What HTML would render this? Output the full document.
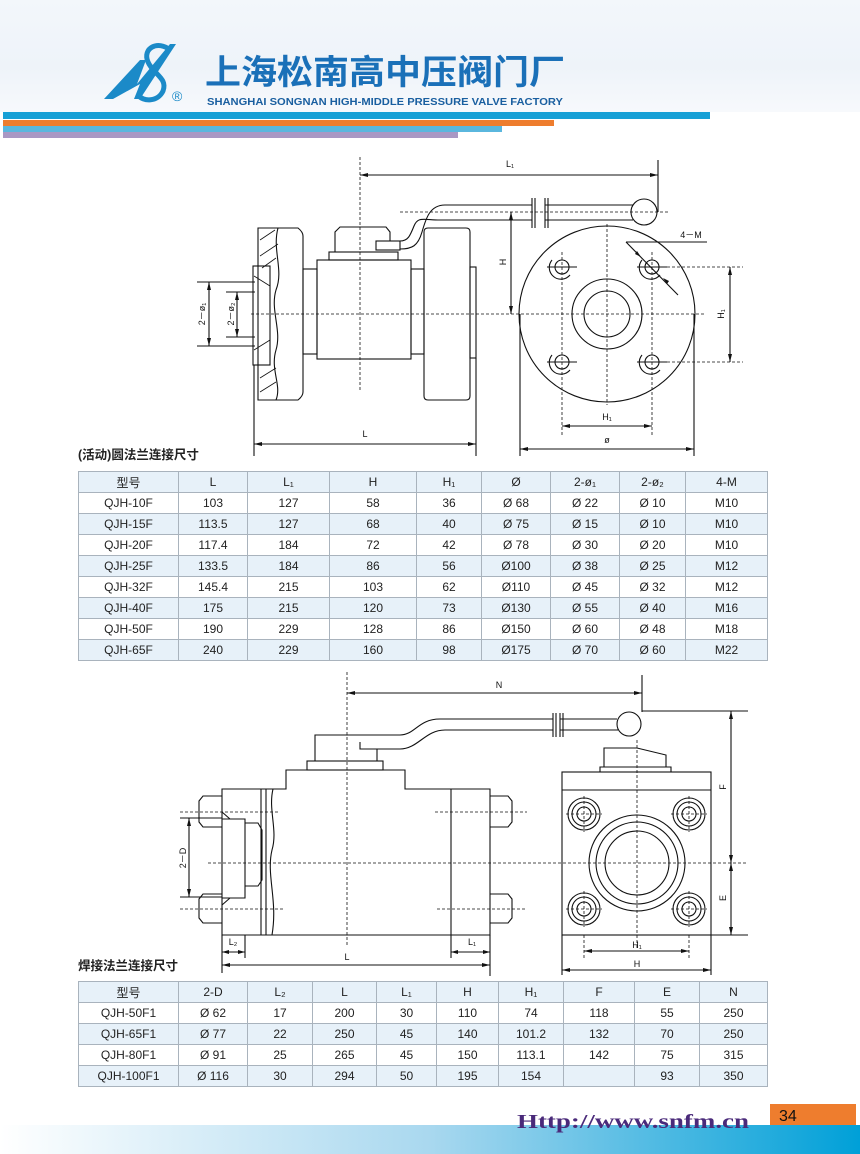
<!DOCTYPE html>
<html><head><meta charset="utf-8"><style>
html,body{margin:0;padding:0;background:#fff}
body{width:860px;height:1154px;position:relative;overflow:hidden;font-family:"Liberation Sans","Noto Sans CJK SC",sans-serif}
.hdr{position:absolute;left:0;top:0;width:860px;height:112px;background:linear-gradient(180deg,#f3f7fb,#eef3f9 60%,#f7f9fc)}
table{position:absolute;border-collapse:collapse;font-size:12px;color:#222;table-layout:fixed}
td{border:1px solid #a9b3bd;text-align:center;height:20px;padding:0}
tr.b td{background:#e7f1f9}
.cap{position:absolute;font-size:12.5px;font-weight:bold;color:#222}
</style></head><body>
<div class="hdr"></div>
<svg width="860" height="1154" style="position:absolute;left:0;top:0" font-family="Liberation Sans, Noto Sans CJK SC, sans-serif">
<!-- logo -->
<polygon points="104,99 140,60 146,60 137,84 170,44 176,44 140,99 134,99 140,84 113,99" fill="#1b8ac8"/>
<path d="M170,50 C158,40 142,48 148,62 C153,74 168,78 163,91 C158,102 143,102 138,95" fill="none" stroke="#1b8ac8" stroke-width="5"/>
<text x="172" y="101" font-size="14" fill="#1b8ac8">®</text>
<text x="205" y="84" font-size="34" font-weight="bold" fill="#1a70b8" textLength="360" lengthAdjust="spacingAndGlyphs" font-family="Liberation Sans, Noto Sans CJK SC, sans-serif">上海松南高中压阀门厂</text>
<text x="207" y="105" font-size="10.5" font-weight="bold" fill="#1a5fa0" textLength="356" lengthAdjust="spacingAndGlyphs">SHANGHAI SONGNAN HIGH-MIDDLE PRESSURE VALVE FACTORY</text>
<rect x="3" y="112" width="707" height="7" fill="#17a0d6"/>
<rect x="3" y="120" width="551" height="6" fill="#ee7d2e"/>
<rect x="3" y="126" width="499" height="6" fill="#5ab7de"/>
<rect x="3" y="132" width="455" height="6" fill="#a998c4"/>

<g stroke="#111" fill="none" stroke-width="1.1">
<!-- ===== Drawing 1 ===== -->
<g stroke-dasharray="3,2" stroke-width="0.8">
<line x1="360" y1="157" x2="360" y2="392"/>
<line x1="251" y1="314" x2="705" y2="314"/>
<line x1="400" y1="212" x2="668" y2="212"/>
<line x1="607" y1="224" x2="607" y2="405"/>
<line x1="562" y1="252" x2="562" y2="436"/><line x1="652" y1="252" x2="652" y2="436"/>
<line x1="652" y1="267" x2="743" y2="267"/><line x1="652" y1="362" x2="743" y2="362"/>
</g>
<line x1="360" y1="175" x2="658" y2="175"/><line x1="658" y1="160" x2="658" y2="212"/>
<path d="M400,249 C412,249 418,246 422,232 C426,218 430,205 445,205 L532,205 M545,205 L633,205"/>
<path d="M400,241 C408,241 410,236 414,226 C418,216 424,220 440,220 L532,220 M545,220 L633,220"/>
<line x1="532" y1="198" x2="532" y2="228"/><line x1="535" y1="198" x2="535" y2="228"/>
<line x1="545" y1="198" x2="545" y2="228"/><line x1="548" y1="198" x2="548" y2="228"/>
<circle cx="644" cy="212" r="13"/>
<path d="M335,252 L335,232 L340,227 L386,227 L390,232 L390,241"/>
<rect x="376" y="241" width="24" height="9"/>
<rect x="329" y="252" width="69" height="8"/>
<rect x="317" y="260" width="94" height="99"/>
<rect x="303" y="269" width="14" height="85"/>
<rect x="411" y="269" width="13" height="85"/>
<path d="M428,228 L466,228 Q470,228 470,232 L470,396 Q470,400 466,400 L428,400 Q424,400 424,396 L424,232 Q424,228 428,228Z"/>
<rect x="470" y="267" width="6" height="91"/>
<path d="M258,228 L298,228 Q303,232 303,236 L303,392 Q303,396 298,400 L258,400 Z"/>
<path d="M278,228 C272,250 284,270 276,290 C270,310 282,330 276,350 C270,370 282,385 276,400"/>
<rect x="253" y="266" width="17" height="99"/>
<g stroke-width="0.8">
<line x1="260" y1="240" x2="275" y2="230"/><line x1="260" y1="256" x2="278" y2="244"/>
<line x1="262" y1="268" x2="276" y2="258"/><line x1="254" y1="276" x2="270" y2="286"/>
<line x1="254" y1="350" x2="270" y2="340"/><line x1="260" y1="378" x2="276" y2="368"/>
<line x1="260" y1="392" x2="276" y2="382"/>
</g>
<line x1="197" y1="282" x2="255" y2="282"/><line x1="197" y1="346" x2="255" y2="346"/>
<line x1="209" y1="282" x2="209" y2="346"/>
<line x1="226" y1="292" x2="255" y2="292"/><line x1="226" y1="337" x2="255" y2="337"/>
<line x1="237" y1="292" x2="237" y2="337"/>
<line x1="254" y1="365" x2="254" y2="456"/><line x1="476" y1="358" x2="476" y2="456"/>
<line x1="254" y1="444" x2="476" y2="444"/>
<circle cx="607" cy="314" r="88"/>
<circle cx="607" cy="314" r="35"/><circle cx="607" cy="314" r="23"/>
<g>
<circle cx="562" cy="267" r="7"/><path d="M552,260 A11,11 0 1 0 570,275"/>
<circle cx="652" cy="267" r="7"/><path d="M642,260 A11,11 0 1 0 660,275"/>
<circle cx="562" cy="362" r="7"/><path d="M552,355 A11,11 0 1 0 570,370"/>
<circle cx="652" cy="362" r="7"/><path d="M642,355 A11,11 0 1 0 660,370"/>
<line x1="547" y1="267" x2="577" y2="267"/><line x1="637" y1="267" x2="667" y2="267"/>
<line x1="547" y1="362" x2="577" y2="362"/><line x1="637" y1="362" x2="667" y2="362"/>
</g>
<line x1="511" y1="212" x2="511" y2="314"/>
<line x1="730" y1="267" x2="730" y2="362"/>
<line x1="562" y1="426" x2="652" y2="426"/>
<line x1="520" y1="314" x2="520" y2="456"/><line x1="694" y1="314" x2="694" y2="456"/>
<line x1="520" y1="449" x2="694" y2="449"/>
<line x1="626" y1="242" x2="707" y2="242"/><line x1="626" y1="242" x2="678" y2="295"/>
<!-- ===== Drawing 2 ===== -->
<g stroke-dasharray="3,2" stroke-width="0.8">
<line x1="347" y1="672" x2="347" y2="945"/>
<line x1="208" y1="863" x2="746" y2="863"/>
<line x1="637" y1="740" x2="637" y2="950"/>
<line x1="180" y1="812" x2="280" y2="812"/><line x1="180" y1="909" x2="285" y2="909"/>
<line x1="435" y1="812" x2="527" y2="812"/><line x1="437" y1="909" x2="527" y2="909"/>
<line x1="566" y1="814" x2="602" y2="814"/><line x1="671" y1="814" x2="707" y2="814"/>
<line x1="566" y1="909" x2="602" y2="909"/><line x1="671" y1="909" x2="707" y2="909"/>
<line x1="584" y1="796" x2="584" y2="832"/><line x1="689" y1="796" x2="689" y2="832"/>
<line x1="584" y1="891" x2="584" y2="927"/><line x1="689" y1="891" x2="689" y2="927"/>
<line x1="584" y1="935" x2="584" y2="960"/><line x1="689" y1="935" x2="689" y2="960"/>
</g>
<line x1="347" y1="693" x2="642" y2="693"/><line x1="642" y1="675" x2="642" y2="712"/>
<path d="M315,742 L315,735 L400,735 C415,735 418,719 440,719 L553,719 M560,719 L617,719"/>
<path d="M360,742 L360,749 L400,749 C418,749 425,730 445,730 L553,730 M560,730 L618,730"/>
<line x1="553" y1="713" x2="553" y2="737"/><line x1="556" y1="713" x2="556" y2="737"/>
<line x1="560" y1="713" x2="560" y2="737"/><line x1="563" y1="713" x2="563" y2="737"/>
<circle cx="629" cy="724" r="12"/>
<path d="M315,742 L315,761 L377,761 L377,749"/>
<rect x="307" y="761" width="76" height="9"/>
<path d="M222,935 L222,789 L286,789 L286,770 L405,770 L405,789 L490,789 L490,935 Z"/>
<line x1="261" y1="789" x2="261" y2="935"/><line x1="266" y1="789" x2="266" y2="935"/>
<path d="M273,789 C268,810 278,830 272,850 C266,875 278,900 272,935"/>
<line x1="451" y1="789" x2="451" y2="935"/>
<path d="M222,819 L230,819 L245,819 L245,898 L230,898 L222,898"/>
<path d="M222,812 L230,819 M222,905 L230,898"/>
<path d="M245,823 L258,823 L262,830 L262,880 L258,886 L245,886"/>
<path d="M222,796 L203,796 L199,801 L199,822 L203,827 L222,827"/>
<path d="M222,894 L203,894 L199,899 L199,918 L203,923 L222,923"/>
<path d="M490,796 L508,796 L512,801 L512,822 L508,827 L490,827"/>
<path d="M490,894 L508,894 L512,899 L512,918 L508,923 L490,923"/>
<line x1="180" y1="818" x2="222" y2="818"/><line x1="180" y1="897" x2="222" y2="897"/>
<line x1="189" y1="818" x2="189" y2="897"/>
<line x1="222" y1="935" x2="222" y2="973"/><line x1="245" y1="935" x2="245" y2="958"/>
<line x1="451" y1="935" x2="451" y2="958"/><line x1="490" y1="935" x2="490" y2="976"/>
<line x1="222" y1="952" x2="245" y2="952"/><line x1="451" y1="952" x2="490" y2="952"/>
<line x1="222" y1="965" x2="490" y2="965"/>
<rect x="562" y="772" width="149" height="163"/>
<line x1="562" y1="790" x2="711" y2="790"/>
<path d="M600,772 L600,767 L604,767 L604,748 L637,748 L666,755 L666,767 L671,767 L671,772"/>
<line x1="600" y1="767" x2="671" y2="767"/>
<circle cx="637" cy="863" r="48"/><circle cx="637" cy="863" r="41"/><circle cx="637" cy="863" r="32"/>
<g>
<circle cx="584" cy="814" r="16"/><circle cx="584" cy="814" r="12"/><circle cx="584" cy="814" r="7"/>
<circle cx="689" cy="814" r="16"/><circle cx="689" cy="814" r="12"/><circle cx="689" cy="814" r="7"/>
<circle cx="584" cy="909" r="16"/><circle cx="584" cy="909" r="12"/><circle cx="584" cy="909" r="7"/>
<circle cx="689" cy="909" r="16"/><circle cx="689" cy="909" r="12"/><circle cx="689" cy="909" r="7"/>
</g>
<line x1="642" y1="711" x2="748" y2="711"/><line x1="711" y1="935" x2="748" y2="935"/>
<line x1="731" y1="711" x2="731" y2="935"/>
<line x1="584" y1="951" x2="689" y2="951"/>
<line x1="562" y1="935" x2="562" y2="975"/><line x1="711" y1="935" x2="711" y2="975"/>
<line x1="562" y1="970" x2="711" y2="970"/>
</g>
<!-- arrowheads -->
<g fill="#111">
<path d="M360,175 l8,-2 v4z M658,175 l-8,-2 v4z"/>
<path d="M511,212 l-2,8 h4z M511,314 l-2,-8 h4z"/>
<path d="M730,267 l-2,8 h4z M730,362 l-2,-8 h4z"/>
<path d="M562,426 l8,-2 v4z M652,426 l-8,-2 v4z"/>
<path d="M520,449 l8,-2 v4z M694,449 l-8,-2 v4z"/>
<path d="M254,444 l8,-2 v4z M476,444 l-8,-2 v4z"/>
<path d="M209,282 l-2,8 h4z M209,346 l-2,-8 h4z"/>
<path d="M237,292 l-2,8 h4z M237,337 l-2,-8 h4z"/>
<path d="M641,257 l-6,-3 l2,-3z M663,278 l6,3 l-2,3z"/>
<path d="M347,693 l8,-2 v4z M642,693 l-8,-2 v4z"/>
<path d="M189,818 l-2,8 h4z M189,897 l-2,-8 h4z"/>
<path d="M222,952 l7,-2 v4z M245,952 l-7,-2 v4z M451,952 l7,-2 v4z M490,952 l-7,-2 v4z"/>
<path d="M222,965 l8,-2 v4z M490,965 l-8,-2 v4z"/>
<path d="M731,711 l-2,8 h4z M731,863 l-2,-8 h4z M731,863 l-2,8 h4z M731,935 l-2,-8 h4z"/>
<path d="M584,951 l8,-2 v4z M689,951 l-8,-2 v4z M562,970 l8,-2 v4z M711,970 l-8,-2 v4z"/>
</g>
<g font-size="9" fill="#111" text-anchor="middle">
<text x="510" y="167">L₁</text>
<text x="365" y="437">L</text>
<text x="607" y="420">H₁</text>
<text x="607" y="443">ø</text>
<text x="691" y="238">4－M</text>
<text transform="translate(506,262) rotate(-90)">H</text>
<text transform="translate(724,314) rotate(-90)">H₁</text>
<text transform="translate(205,314) rotate(-90)">2－ø₁</text>
<text transform="translate(234,314) rotate(-90)">2－ø₂</text>
<text x="499" y="688">N</text>
<text x="233" y="945">L₂</text>
<text x="472" y="945">L₁</text>
<text x="347" y="960">L</text>
<text x="637" y="948">H₁</text>
<text x="637" y="967">H</text>
<text transform="translate(186,858) rotate(-90)">2－D</text>
<text transform="translate(726,787) rotate(-90)">F</text>
<text transform="translate(726,898) rotate(-90)">E</text>
</g>
<!-- footer -->
<defs><linearGradient id="fg" x1="0" x2="1"><stop offset="0" stop-color="#fff"/><stop offset="0.5" stop-color="#a9d8ef"/><stop offset="1" stop-color="#00a0d8"/></linearGradient></defs>
<rect x="0" y="1125" width="860" height="29" fill="url(#fg)"/>
<rect x="770" y="1104" width="86" height="21" fill="#ee7d2e"/>
<text x="779" y="1121" font-size="16" fill="#111" font-family="Liberation Sans, sans-serif">34</text>
<text x="517" y="1128" font-size="20" font-weight="bold" fill="#4a2a7a" font-family="Liberation Serif, serif" textLength="232" lengthAdjust="spacingAndGlyphs">Http://www.snfm.cn</text>
</svg>
<div class="cap" style="left:78px;top:444px">(活动)圆法兰连接尺寸</div>
<table style="left:78px;top:471px;width:689px">
<colgroup><col style="width:100px"><col style="width:69px"><col style="width:82px"><col style="width:87px"><col style="width:65px"><col style="width:69px"><col style="width:69px"><col style="width:66px"><col style="width:82px"></colgroup>
<tr class="b"><td>型号</td><td>L</td><td>L₁</td><td>H</td><td>H₁</td><td>Ø</td><td>2-ø₁</td><td>2-ø₂</td><td>4-M</td></tr>
<tr><td>QJH-10F</td><td>103</td><td>127</td><td>58</td><td>36</td><td>Ø 68</td><td>Ø 22</td><td>Ø 10</td><td>M10</td></tr>
<tr class="b"><td>QJH-15F</td><td>113.5</td><td>127</td><td>68</td><td>40</td><td>Ø 75</td><td>Ø 15</td><td>Ø 10</td><td>M10</td></tr>
<tr><td>QJH-20F</td><td>117.4</td><td>184</td><td>72</td><td>42</td><td>Ø 78</td><td>Ø 30</td><td>Ø 20</td><td>M10</td></tr>
<tr class="b"><td>QJH-25F</td><td>133.5</td><td>184</td><td>86</td><td>56</td><td>Ø100</td><td>Ø 38</td><td>Ø 25</td><td>M12</td></tr>
<tr><td>QJH-32F</td><td>145.4</td><td>215</td><td>103</td><td>62</td><td>Ø110</td><td>Ø 45</td><td>Ø 32</td><td>M12</td></tr>
<tr class="b"><td>QJH-40F</td><td>175</td><td>215</td><td>120</td><td>73</td><td>Ø130</td><td>Ø 55</td><td>Ø 40</td><td>M16</td></tr>
<tr><td>QJH-50F</td><td>190</td><td>229</td><td>128</td><td>86</td><td>Ø150</td><td>Ø 60</td><td>Ø 48</td><td>M18</td></tr>
<tr class="b"><td>QJH-65F</td><td>240</td><td>229</td><td>160</td><td>98</td><td>Ø175</td><td>Ø 70</td><td>Ø 60</td><td>M22</td></tr>
</table>
<div class="cap" style="left:78px;top:955px">焊接法兰连接尺寸</div>
<table style="left:78px;top:981px;width:689px">
<colgroup><col style="width:100px"><col style="width:69px"><col style="width:65px"><col style="width:64px"><col style="width:60px"><col style="width:62px"><col style="width:65px"><col style="width:71px"><col style="width:65px"><col style="width:68px"></colgroup>
<tr class="b"><td>型号</td><td>2-D</td><td>L₂</td><td>L</td><td>L₁</td><td>H</td><td>H₁</td><td>F</td><td>E</td><td>N</td></tr>
<tr><td>QJH-50F1</td><td>Ø 62</td><td>17</td><td>200</td><td>30</td><td>110</td><td>74</td><td>118</td><td>55</td><td>250</td></tr>
<tr class="b"><td>QJH-65F1</td><td>Ø 77</td><td>22</td><td>250</td><td>45</td><td>140</td><td>101.2</td><td>132</td><td>70</td><td>250</td></tr>
<tr><td>QJH-80F1</td><td>Ø 91</td><td>25</td><td>265</td><td>45</td><td>150</td><td>113.1</td><td>142</td><td>75</td><td>315</td></tr>
<tr class="b"><td>QJH-100F1</td><td>Ø 116</td><td>30</td><td>294</td><td>50</td><td>195</td><td>154</td><td></td><td>93</td><td>350</td></tr>
</table>
</body></html>
